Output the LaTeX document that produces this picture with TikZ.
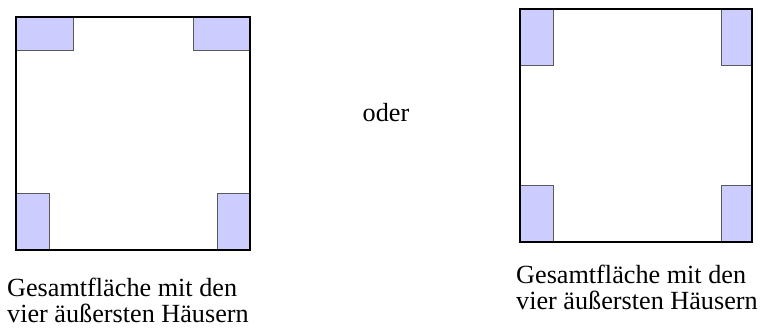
\documentclass[tikz,border=0pt]{standalone}
\usepackage{fontspec}
\setmainfont{Liberation Serif}
\usepackage{tikz}

\definecolor{hausblau}{RGB}{204,204,255}
\tikzset{
    haus/.style = {fill=hausblau, draw=black!65, line width=0.8pt},
    flaeche/.style = {draw=black, line width=1.6pt},
    beschriftung/.style = {inner sep=0pt, align=left,
        font=\fontsize{26.2}{26}\selectfont}
}

\begin{document}
\begin{tikzpicture}[%
        x = 1pt, y = -1pt
    ]
      \useasboundingbox (0,0) rectangle (761,327);
      % linke Variante
      \draw [haus] (16,17) rectangle (73,50);
      \draw [haus] (193,17) rectangle (250,50);
      \draw [haus] (16,193) rectangle (49,250);
      \draw [haus] (217,193) rectangle (250,250);
      \draw [flaeche] (16,17) rectangle (250,250);
      \node [beschriftung, anchor=base west] (textA) at (7,322.7)
        {Gesamtfläche mit den\\vier äußersten Häusern};
      % Mitte
      \node [beschriftung, anchor=base] (oder) at (386,121) {oder};
      % rechte Variante
      \draw [haus] (520,9) rectangle (553,65);
      \draw [haus] (721,9) rectangle (752,65);
      \draw [haus] (520,185) rectangle (553,242);
      \draw [haus] (721,185) rectangle (752,242);
      \draw [flaeche] (520,9) rectangle (752,242);
      \node [beschriftung, anchor=base west] (textB) at (516,309.3)
        {Gesamtfläche mit den\\vier äußersten Häusern};
    \end{tikzpicture}
\end{document}
